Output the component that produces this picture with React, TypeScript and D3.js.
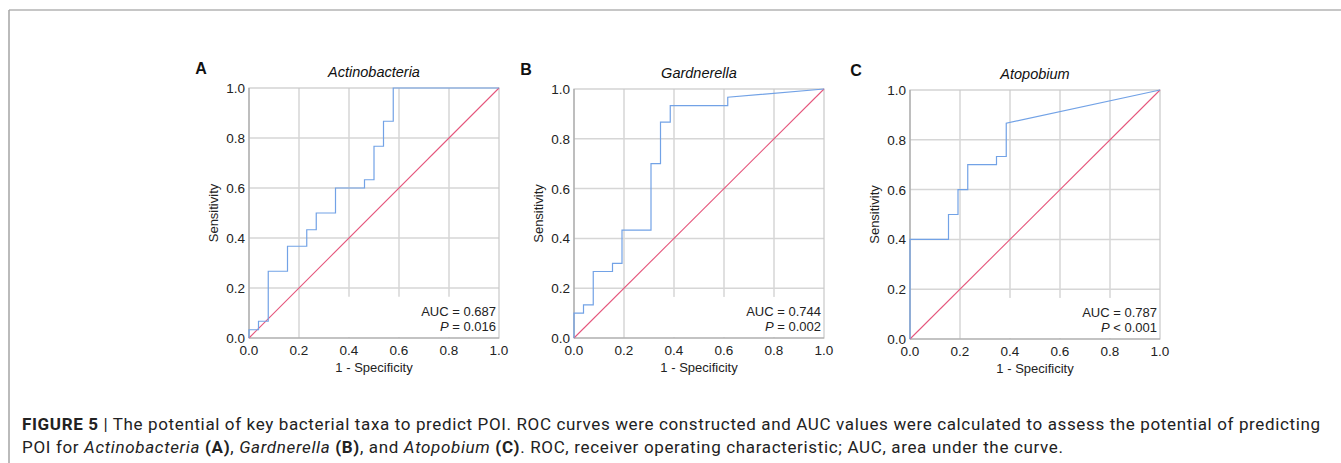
import * as d3 from 'd3';
import React, { useEffect, useRef } from 'react';

// ROC points: [1 - specificity, sensitivity]
const actinoFpr = [0, 0, 0.038, 0.038, 0.077, 0.077, 0.154, 0.154, 0.231, 0.231, 0.269, 0.269, 0.346, 0.346, 0.462, 0.462, 0.5, 0.5, 0.538, 0.538, 0.577, 0.577, 1.0];
const actinoTpr = [0, 0.033, 0.033, 0.067, 0.067, 0.267, 0.267, 0.367, 0.367, 0.433, 0.433, 0.5, 0.5, 0.6, 0.6, 0.633, 0.633, 0.767, 0.767, 0.867, 0.867, 1.0, 1.0];

const gardFpr = [0, 0, 0.038, 0.038, 0.077, 0.077, 0.154, 0.154, 0.192, 0.192, 0.308, 0.308, 0.346, 0.346, 0.385, 0.385, 0.615, 0.615, 1.0];
const gardTpr = [0, 0.1, 0.1, 0.133, 0.133, 0.267, 0.267, 0.3, 0.3, 0.433, 0.433, 0.7, 0.7, 0.867, 0.867, 0.933, 0.933, 0.967, 1.0];

const atopoFpr = [0, 0, 0.154, 0.154, 0.192, 0.192, 0.231, 0.231, 0.346, 0.346, 0.385, 0.385, 1.0];
const atopoTpr = [0, 0.4, 0.4, 0.5, 0.5, 0.6, 0.6, 0.7, 0.7, 0.733, 0.733, 0.867, 1.0];

const panelLetters = ['A', 'B', 'C'];
const taxa = ['Actinobacteria', 'Gardnerella', 'Atopobium'];
const aucValues = ['0.687', '0.744', '0.787'];
const pValues = ['= 0.016', '= 0.002', '< 0.001'];
const ticks = [0, 0.2, 0.4, 0.6, 0.8, 1.0];

const fprs = [actinoFpr, gardFpr, atopoFpr];
const tprs = [actinoTpr, gardTpr, atopoTpr];

// where each panel's plot area sits in the page
const panelBoxes = [
    { left: 249, top: 88, w: 250, h: 250, letterX: 201 },
    { left: 574, top: 89, w: 250, h: 249, letterX: 526 },
    { left: 910, top: 90, w: 250, h: 249, letterX: 856 },
];

const FONT = '"Liberation Sans", Arial, sans-serif';

export default function App() {
    const ref = useRef(null);

    useEffect(() => {
        document.body.style.margin = '0';
        const svg = d3.select(ref.current);
        svg.selectAll('*').remove();

        // page frame
        svg.append('line')
            .attr('x1', 9).attr('x2', 1341).attr('y1', 10).attr('y2', 10)
            .attr('stroke', '#c6c6c6').attr('stroke-width', 2);
        svg.append('line')
            .attr('x1', 9).attr('x2', 9).attr('y1', 10).attr('y2', 463)
            .attr('stroke', '#a4a4a4').attr('stroke-width', 1.5);

        panelBoxes.forEach((box, i) => {
            const x = d3.scaleLinear().domain([0, 1]).range([0, box.w]);
            const y = d3.scaleLinear().domain([0, 1]).range([box.h, 0]);

            const g = svg.append('g')
                .attr('transform', `translate(${box.left},${box.top})`);

            // grid
            ticks.slice(1, 5).forEach((t) => {
                g.append('line')
                    .attr('x1', x(t)).attr('x2', x(t)).attr('y1', 0).attr('y2', box.h)
                    .attr('stroke', '#d6d6d6').attr('stroke-width', 1.5);
                g.append('line')
                    .attr('x1', 0).attr('x2', box.w).attr('y1', y(t)).attr('y2', y(t))
                    .attr('stroke', '#d6d6d6').attr('stroke-width', 1.5);
            });

            // white box behind the AUC legend
            g.append('rect')
                .attr('x', x(0.39)).attr('y', y(0.165))
                .attr('width', x(0.995) - x(0.39)).attr('height', y(0) - y(0.165) - 1)
                .attr('fill', 'white');

            // frame
            g.append('rect')
                .attr('x', 0).attr('y', 0).attr('width', box.w).attr('height', box.h)
                .attr('fill', 'none').attr('stroke', '#c8c8c8').attr('stroke-width', 1.2);
            g.append('line')
                .attr('x1', 0).attr('x2', 0).attr('y1', 0).attr('y2', box.h)
                .attr('stroke', '#a8a8a8').attr('stroke-width', 1.2);
            g.append('line')
                .attr('x1', 0).attr('x2', box.w).attr('y1', box.h).attr('y2', box.h)
                .attr('stroke', '#a8a8a8').attr('stroke-width', 1.2);

            // reference diagonal
            g.append('line')
                .attr('x1', x(0)).attr('y1', y(0)).attr('x2', x(1)).attr('y2', y(1))
                .attr('stroke', '#e5567c').attr('stroke-width', 1.1);

            // ROC curve
            const pts = fprs[i].map((f, k) => [f, tprs[i][k]]);
            const line = d3.line().x((d) => x(d[0])).y((d) => y(d[1]));
            g.append('path')
                .attr('d', line(pts))
                .attr('fill', 'none')
                .attr('stroke', '#72a2e6')
                .attr('stroke-width', 1.2);

            // tick labels
            ticks.forEach((t) => {
                g.append('text')
                    .attr('x', -4).attr('y', y(t) + 5)
                    .attr('text-anchor', 'end')
                    .style('font-family', FONT).style('font-size', '13.5px')
                    .attr('fill', '#222')
                    .text(t.toFixed(1));
                g.append('text')
                    .attr('x', x(t)).attr('y', box.h + 17)
                    .attr('text-anchor', 'middle')
                    .style('font-family', FONT).style('font-size', '13.5px')
                    .attr('fill', '#222')
                    .text(t.toFixed(1));
            });

            // axis titles
            g.append('text')
                .attr('x', box.w / 2).attr('y', box.h + 34)
                .attr('text-anchor', 'middle')
                .style('font-family', FONT).style('font-size', '13px')
                .attr('fill', '#222')
                .text('1 - Specificity');
            g.append('text')
                .attr('transform', `translate(-31,${box.h / 2}) rotate(-90)`)
                .attr('text-anchor', 'middle')
                .style('font-family', FONT).style('font-size', '13px')
                .attr('fill', '#222')
                .text('Sensitivity');

            // panel title + letter
            g.append('text')
                .attr('x', box.w / 2).attr('y', -11)
                .attr('text-anchor', 'middle')
                .style('font-family', FONT).style('font-size', '14.5px')
                .style('font-style', 'italic')
                .attr('fill', '#111')
                .text(taxa[i]);
            svg.append('text')
                .attr('x', box.letterX).attr('y', box.top - 14)
                .attr('text-anchor', 'middle')
                .style('font-family', FONT).style('font-size', '16px')
                .style('font-weight', 'bold')
                .attr('fill', '#111')
                .text(panelLetters[i]);

            // AUC legend
            g.append('text')
                .attr('x', box.w - 3).attr('y', y(0.09))
                .attr('text-anchor', 'end')
                .style('font-family', FONT).style('font-size', '13px')
                .attr('fill', '#222')
                .text(`AUC = ${aucValues[i]}`);
            const pt = g.append('text')
                .attr('x', box.w - 3).attr('y', y(0.03))
                .attr('text-anchor', 'end')
                .style('font-family', FONT).style('font-size', '13px')
                .attr('fill', '#222');
            pt.append('tspan').style('font-style', 'italic').text('P');
            pt.append('tspan').text(` ${pValues[i]}`);
        });

        // caption
        const capFont = '"Liberation Sans Narrow", "Arial Narrow", Roboto, sans-serif';
        const l1 = svg.append('text')
            .attr('x', 22).attr('y', 430)
            .attr('textLength', 1298).attr('lengthAdjust', 'spacing')
            .style('font-family', capFont).style('font-size', '17px')
            .attr('fill', '#222');
        l1.append('tspan').style('font-weight', 'bold').text('FIGURE 5');
        l1.append('tspan').text(' | The potential of key bacterial taxa to predict POI. ROC curves were constructed and AUC values were calculated to assess the potential of predicting');

        const l2 = svg.append('text')
            .attr('x', 22).attr('y', 453)
            .attr('textLength', 1041).attr('lengthAdjust', 'spacing')
            .style('font-family', capFont).style('font-size', '17px')
            .attr('fill', '#222');
        const runs = [
            ['POI for ', ''], ['Actinobacteria', 'i'], [' ', ''], ['(A)', 'b'], [', ', ''],
            ['Gardnerella', 'i'], [' ', ''], ['(B)', 'b'], [', and ', ''], ['Atopobium', 'i'],
            [' ', ''], ['(C)', 'b'], ['. ROC, receiver operating characteristic; AUC, area under the curve.', ''],
        ];
        runs.forEach(([t, s]) => {
            const ts = l2.append('tspan').text(t);
            if (s === 'i') ts.style('font-style', 'italic');
            if (s === 'b') ts.style('font-weight', 'bold');
        });
    }, []);

    return <svg ref={ref} width={1341} height={463} style={{ display: 'block' }} />;
}
